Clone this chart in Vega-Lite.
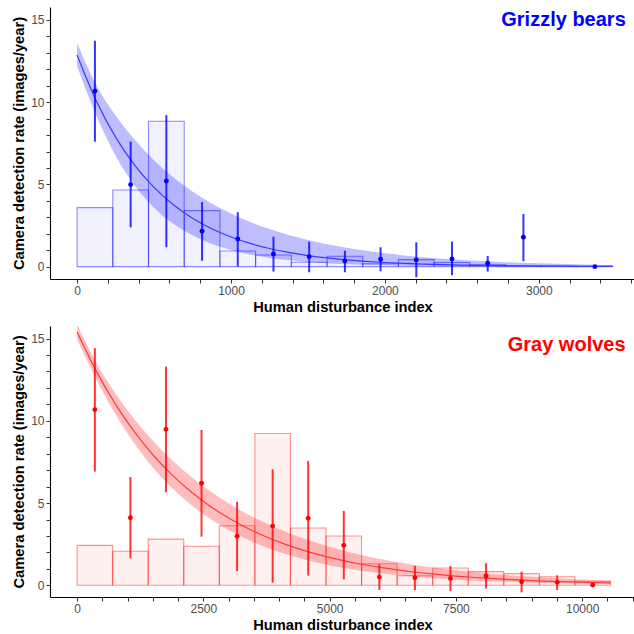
{
  "$schema": "https://vega.github.io/schema/vega-lite/v6.json",
  "padding": {"left": 11, "top": 7, "right": 0, "bottom": 0},
  "background": "white",
  "config": {
    "view": {"stroke": null},
    "axis": {
      "grid": false,
      "domainColor": "#000000",
      "domainWidth": 1.1,
      "tickColor": "#333333",
      "tickSize": 4,
      "tickWidth": 1,
      "labelFont": "Liberation Sans",
      "labelFontSize": 12,
      "labelColor": "#4d4d4d",
      "labelPadding": 2,
      "labelFlush": false,
      "labelOverlap": false,
      "titleFont": "Liberation Sans",
      "titleFontSize": 14.7,
      "titleFontWeight": "bold",
      "titleColor": "#000000"
    }
  },
  "datasets": {
    "gbars": [
      {"x": 0, "x2": 232, "y": 3.59},
      {"x": 232, "x2": 464, "y": 4.66},
      {"x": 464, "x2": 696, "y": 8.84},
      {"x": 696, "x2": 928, "y": 3.41},
      {"x": 928, "x2": 1160, "y": 0.95},
      {"x": 1160, "x2": 1392, "y": 0.71},
      {"x": 1392, "x2": 1624, "y": 0.27},
      {"x": 1624, "x2": 1856, "y": 0.63},
      {"x": 1856, "x2": 2088, "y": 0.18},
      {"x": 2088, "x2": 2320, "y": 0.43},
      {"x": 2320, "x2": 2552, "y": 0.25},
      {"x": 2552, "x2": 2784, "y": 0.12},
      {"x": 2784, "x2": 3016, "y": 0.06},
      {"x": 3016, "x2": 3248, "y": 0.03},
      {"x": 3248, "x2": 3480, "y": 0.02}
    ],
    "gline": [
      {"x": 0, "y": 12.87}, {"x": 125, "y": 10.068}, {"x": 250, "y": 7.876}, {"x": 375, "y": 6.161},
      {"x": 500, "y": 4.82}, {"x": 625, "y": 3.77}, {"x": 750, "y": 2.95}, {"x": 875, "y": 2.307},
      {"x": 1000, "y": 1.805}, {"x": 1125, "y": 1.412}, {"x": 1250, "y": 1.1046}, {"x": 1375, "y": 0.8641},
      {"x": 1500, "y": 0.676}, {"x": 1625, "y": 0.5288}, {"x": 1750, "y": 0.4137}, {"x": 1875, "y": 0.3236},
      {"x": 2000, "y": 0.2532}, {"x": 2125, "y": 0.1981}, {"x": 2250, "y": 0.1549}, {"x": 2375, "y": 0.1212},
      {"x": 2500, "y": 0.0948}, {"x": 2625, "y": 0.0742}, {"x": 2750, "y": 0.058}, {"x": 2875, "y": 0.0454},
      {"x": 3000, "y": 0.0355}, {"x": 3125, "y": 0.0278}, {"x": 3250, "y": 0.0217}, {"x": 3375, "y": 0.017},
      {"x": 3480, "y": 0.0138}
    ],
    "gband": [
      {"x": 0, "y": 12.18, "y2": 13.6}, {"x": 125, "y": 9.19, "y2": 11.03}, {"x": 250, "y": 6.744, "y2": 9.198},
      {"x": 375, "y": 4.923, "y2": 7.711}, {"x": 500, "y": 3.588, "y2": 6.475}, {"x": 625, "y": 2.613, "y2": 5.44},
      {"x": 750, "y": 1.903, "y2": 4.573}, {"x": 875, "y": 1.385, "y2": 3.844}, {"x": 1000, "y": 1.008, "y2": 3.232},
      {"x": 1125, "y": 0.7335, "y2": 2.718}, {"x": 1250, "y": 0.534, "y2": 2.285}, {"x": 1375, "y": 0.3885, "y2": 1.922},
      {"x": 1500, "y": 0.2827, "y2": 1.616}, {"x": 1625, "y": 0.2057, "y2": 1.359}, {"x": 1750, "y": 0.1497, "y2": 1.143},
      {"x": 1875, "y": 0.1089, "y2": 0.9614}, {"x": 2000, "y": 0.0793, "y2": 0.8087}, {"x": 2125, "y": 0.0577, "y2": 0.68},
      {"x": 2250, "y": 0.042, "y2": 0.572}, {"x": 2375, "y": 0.0305, "y2": 0.481}, {"x": 2500, "y": 0.0222, "y2": 0.4046},
      {"x": 2625, "y": 0.0162, "y2": 0.3403}, {"x": 2750, "y": 0.0118, "y2": 0.286}, {"x": 2875, "y": 0.0086, "y2": 0.2408},
      {"x": 3000, "y": 0.0062, "y2": 0.2025}, {"x": 3125, "y": 0.0045, "y2": 0.1704}, {"x": 3250, "y": 0.0033, "y2": 0.1431},
      {"x": 3375, "y": 0.0024, "y2": 0.1205}, {"x": 3480, "y": 0.0018, "y2": 0.104}
    ],
    "gpts": [
      {"x": 116, "y": 10.68}, {"x": 348, "y": 4.99}, {"x": 580, "y": 5.21}, {"x": 812, "y": 2.15},
      {"x": 1044, "y": 1.68}, {"x": 1276, "y": 0.77}, {"x": 1508, "y": 0.61}, {"x": 1740, "y": 0.35},
      {"x": 1972, "y": 0.45}, {"x": 2204, "y": 0.41}, {"x": 2436, "y": 0.47}, {"x": 2668, "y": 0.21},
      {"x": 2900, "y": 1.79}, {"x": 3364, "y": 0.0}
    ],
    "gerr": [
      {"x": 116, "y": 7.6, "y2": 13.74}, {"x": 348, "y": 2.39, "y2": 7.6}, {"x": 580, "y": 1.18, "y2": 9.22},
      {"x": 812, "y": 0.36, "y2": 3.93}, {"x": 1044, "y": 0.02, "y2": 3.31}, {"x": 1276, "y": -0.3, "y2": 1.82},
      {"x": 1508, "y": -0.34, "y2": 1.52}, {"x": 1740, "y": -0.34, "y2": 0.97}, {"x": 1972, "y": -0.28, "y2": 1.18},
      {"x": 2204, "y": -0.64, "y2": 1.48}, {"x": 2436, "y": -0.52, "y2": 1.52}, {"x": 2668, "y": -0.3, "y2": 0.65},
      {"x": 2900, "y": 0.33, "y2": 3.2}
    ],
    "glabel": [{"x": 3565, "y": 14.63, "label": "Grizzly bears"}],
    "wbars": [
      {"x": 0, "x2": 704, "y": 2.43},
      {"x": 704, "x2": 1408, "y": 2.07},
      {"x": 1408, "x2": 2112, "y": 2.81},
      {"x": 2112, "x2": 2816, "y": 2.37},
      {"x": 2816, "x2": 3520, "y": 3.62},
      {"x": 3520, "x2": 4224, "y": 9.23},
      {"x": 4224, "x2": 4928, "y": 3.48},
      {"x": 4928, "x2": 5632, "y": 3.0},
      {"x": 5632, "x2": 6336, "y": 1.31},
      {"x": 6336, "x2": 7040, "y": 0.58},
      {"x": 7040, "x2": 7744, "y": 1.05},
      {"x": 7744, "x2": 8448, "y": 0.83},
      {"x": 8448, "x2": 9152, "y": 0.71},
      {"x": 9152, "x2": 9856, "y": 0.52},
      {"x": 9856, "x2": 10560, "y": 0.25}
    ],
    "wline": [
      {"x": 0, "y": 15.4}, {"x": 375, "y": 13.048}, {"x": 750, "y": 11.055}, {"x": 1125, "y": 9.3666},
      {"x": 1500, "y": 7.936}, {"x": 1875, "y": 6.724}, {"x": 2250, "y": 5.697}, {"x": 2625, "y": 4.827},
      {"x": 3000, "y": 4.0897}, {"x": 3375, "y": 3.4651}, {"x": 3750, "y": 2.9359}, {"x": 4125, "y": 2.4875},
      {"x": 4500, "y": 2.1076}, {"x": 4875, "y": 1.7857}, {"x": 5250, "y": 1.513}, {"x": 5625, "y": 1.2819},
      {"x": 6000, "y": 1.0861}, {"x": 6375, "y": 0.9202}, {"x": 6750, "y": 0.7797}, {"x": 7125, "y": 0.6606},
      {"x": 7500, "y": 0.5597}, {"x": 7875, "y": 0.4742}, {"x": 8250, "y": 0.4018}, {"x": 8625, "y": 0.3404},
      {"x": 9000, "y": 0.2884}, {"x": 9375, "y": 0.2444}, {"x": 9750, "y": 0.2071}, {"x": 10125, "y": 0.1754},
      {"x": 10560, "y": 0.1447}
    ],
    "wband": [
      {"x": 0, "y": 14.94, "y2": 15.87}, {"x": 375, "y": 12.553, "y2": 13.562}, {"x": 750, "y": 10.44, "y2": 11.706},
      {"x": 1125, "y": 8.655, "y2": 10.137}, {"x": 1500, "y": 7.166, "y2": 8.788}, {"x": 1875, "y": 5.931, "y2": 7.623},
      {"x": 2250, "y": 4.907, "y2": 6.614}, {"x": 2625, "y": 4.059, "y2": 5.74}, {"x": 3000, "y": 3.357, "y2": 4.982},
      {"x": 3375, "y": 2.777, "y2": 4.324}, {"x": 3750, "y": 2.297, "y2": 3.753}, {"x": 4125, "y": 1.899, "y2": 3.258},
      {"x": 4500, "y": 1.571, "y2": 2.828}, {"x": 4875, "y": 1.299, "y2": 2.455}, {"x": 5250, "y": 1.074, "y2": 2.131},
      {"x": 5625, "y": 0.8882, "y2": 1.85}, {"x": 6000, "y": 0.7345, "y2": 1.606}, {"x": 6375, "y": 0.6074, "y2": 1.394},
      {"x": 6750, "y": 0.5022, "y2": 1.2104}, {"x": 7125, "y": 0.4153, "y2": 1.0508}, {"x": 7500, "y": 0.3434, "y2": 0.9122},
      {"x": 7875, "y": 0.284, "y2": 0.7919}, {"x": 8250, "y": 0.2348, "y2": 0.6875}, {"x": 8625, "y": 0.1942, "y2": 0.5968},
      {"x": 9000, "y": 0.1605, "y2": 0.5181}, {"x": 9375, "y": 0.1328, "y2": 0.4499}, {"x": 9750, "y": 0.1098, "y2": 0.3906},
      {"x": 10125, "y": 0.0908, "y2": 0.339}, {"x": 10560, "y": 0.073, "y2": 0.287}
    ],
    "wpts": [
      {"x": 352, "y": 10.68}, {"x": 1056, "y": 4.11}, {"x": 1760, "y": 9.48}, {"x": 2464, "y": 6.2},
      {"x": 3168, "y": 2.98}, {"x": 3872, "y": 3.6}, {"x": 4576, "y": 4.07}, {"x": 5280, "y": 2.43},
      {"x": 5984, "y": 0.5}, {"x": 6688, "y": 0.46}, {"x": 7392, "y": 0.42}, {"x": 8096, "y": 0.57},
      {"x": 8800, "y": 0.22}, {"x": 9504, "y": 0.18}, {"x": 10208, "y": 0.02}
    ],
    "werr": [
      {"x": 352, "y": 6.91, "y2": 14.41}, {"x": 1056, "y": 1.64, "y2": 6.58}, {"x": 1760, "y": 5.65, "y2": 13.29},
      {"x": 2464, "y": 2.96, "y2": 9.44}, {"x": 3168, "y": 0.87, "y2": 5.08}, {"x": 3872, "y": 0.16, "y2": 7.05},
      {"x": 4576, "y": 0.59, "y2": 7.56}, {"x": 5280, "y": 0.36, "y2": 4.52}, {"x": 5984, "y": -0.29, "y2": 1.28},
      {"x": 6688, "y": -0.29, "y2": 1.19}, {"x": 7392, "y": -0.35, "y2": 1.17}, {"x": 8096, "y": -0.2, "y2": 1.34},
      {"x": 8800, "y": -0.43, "y2": 0.83}, {"x": 9504, "y": -0.29, "y2": 0.61}
    ],
    "wlabel": [{"x": 10858, "y": 14.24, "label": "Gray wolves"}]
  },
  "vconcat": [
    {
      "width": 585,
      "height": 272,
      "encoding": {
        "x": {"field": "x", "type": "quantitative", "scale": {"domain": [-176, 3625], "nice": false, "zero": false},
              "axis": {"title": "Human disturbance index", "values": [0,200,400,600,800,1000,1200,1400,1600,1800,2000,2200,2400,2600,2800,3000,3200,3400,3600], "labelExpr": "datum.value % 1000 == 0 ? datum.label : ''", "format": "d", "labelOverlap": false, "titlePadding": 3}},
        "y": {"field": "y", "type": "quantitative", "scale": {"domain": [-0.75, 15.79], "nice": false, "zero": false},
              "axis": {"title": "Camera detection rate (images/year)", "values": [0,1,2,3,4,5,6,7,8,9,10,11,12,13,14,15], "labelExpr": "datum.value % 5 == 0 ? datum.label : ''", "labelOverlap": false, "titlePadding": 4}}
      },
      "layer": [
        {
          "data": {"name": "gbars"},
          "mark": {"type": "rect", "fill": "#0000ff", "fillOpacity": 0.05, "stroke": "#0000ff", "strokeOpacity": 0.45, "strokeWidth": 1.1},
          "encoding": {"x2": {"field": "x2"}, "y2": {"datum": 0}}
        },
        {
          "data": {"name": "gband"},
          "mark": {"type": "area", "color": "#0000ff", "opacity": 0.26, "interpolate": "monotone", "clip": true},
          "encoding": {"y2": {"field": "y2"}}
        },
        {
          "data": {"name": "gline"},
          "mark": {"type": "line", "color": "#3a3aff", "strokeWidth": 1.2, "interpolate": "monotone", "clip": true},
          "encoding": {}
        },
        {
          "data": {"name": "gerr"},
          "mark": {"type": "rule", "color": "#0000ff", "strokeWidth": 2, "opacity": 0.8},
          "encoding": {"y2": {"field": "y2"}}
        },
        {
          "data": {"name": "gpts"},
          "mark": {"type": "circle", "color": "#0000ff", "opacity": 1, "size": 24},
          "encoding": {}
        },
        {
          "data": {"name": "glabel"},
          "mark": {"type": "text", "color": "#0000ff", "font": "Liberation Sans", "fontWeight": "bold", "fontSize": 20, "align": "right", "baseline": "alphabetic"},
          "encoding": {"text": {"field": "label"}}
        }
      ]
    },
    {
      "width": 585,
      "height": 271,
      "encoding": {
        "x": {"field": "x", "type": "quantitative", "scale": {"domain": [-536, 11045], "nice": false, "zero": false},
              "axis": {"title": "Human disturbance index", "values": [0,500,1000,1500,2000,2500,3000,3500,4000,4500,5000,5500,6000,6500,7000,7500,8000,8500,9000,9500,10000,10500,11000], "labelExpr": "datum.value % 2500 == 0 ? datum.label : ''", "format": "d", "labelOverlap": false, "titlePadding": 3}},
        "y": {"field": "y", "type": "quantitative", "scale": {"domain": [-0.71, 15.76], "nice": false, "zero": false},
              "axis": {"title": "Camera detection rate (images/year)", "values": [0,1,2,3,4,5,6,7,8,9,10,11,12,13,14,15], "labelExpr": "datum.value % 5 == 0 ? datum.label : ''", "labelOverlap": false, "titlePadding": 4}}
      },
      "layer": [
        {
          "data": {"name": "wbars"},
          "mark": {"type": "rect", "fill": "#ff0000", "fillOpacity": 0.06, "stroke": "#ff0000", "strokeOpacity": 0.42, "strokeWidth": 1.1},
          "encoding": {"x2": {"field": "x2"}, "y2": {"datum": 0}}
        },
        {
          "data": {"name": "wband"},
          "mark": {"type": "area", "color": "#ff0000", "opacity": 0.26, "interpolate": "monotone", "clip": true},
          "encoding": {"y2": {"field": "y2"}}
        },
        {
          "data": {"name": "wline"},
          "mark": {"type": "line", "color": "#ff3a3a", "strokeWidth": 1.2, "interpolate": "monotone", "clip": true},
          "encoding": {}
        },
        {
          "data": {"name": "werr"},
          "mark": {"type": "rule", "color": "#ff0000", "strokeWidth": 2, "opacity": 0.8},
          "encoding": {"y2": {"field": "y2"}}
        },
        {
          "data": {"name": "wpts"},
          "mark": {"type": "circle", "color": "#ff0000", "opacity": 1, "size": 24},
          "encoding": {}
        },
        {
          "data": {"name": "wlabel"},
          "mark": {"type": "text", "color": "#ff0000", "font": "Liberation Sans", "fontWeight": "bold", "fontSize": 20, "align": "right", "baseline": "alphabetic"},
          "encoding": {"text": {"field": "label"}}
        }
      ]
    }
  ],
  "spacing": 47,
  "bounds": "flush"
}
